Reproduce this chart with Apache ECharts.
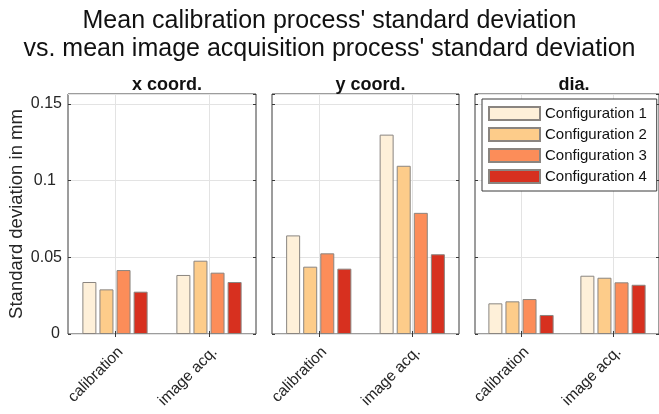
<!DOCTYPE html>
<html>
<head>
<meta charset="utf-8">
<script src="https://cdn.jsdelivr.net/npm/echarts@6/dist/echarts.min.js"></script>
<style>html,body{margin:0;padding:0;background:#fff;}#c{width:659px;height:414px;}</style>
</head>
<body>
<div id="c"></div>
<script>
// ---- data ----
var categories = ['calibration', 'image acq.'];
var panelTitles = ['x coord.', 'y coord.', 'dia.'];
var configNames = ['Configuration 1', 'Configuration 2', 'Configuration 3', 'Configuration 4'];
var configColors = ['#fef0d9', '#fdcc8a', '#fc8d59', '#d7301f'];
// values per panel: [calibration, image acq.] per configuration
var xCoordCalib = [0.0339, 0.0291, 0.0417, 0.0276];
var xCoordImage = [0.0385, 0.0478, 0.0400, 0.0339];
var yCoordCalib = [0.0643, 0.0439, 0.0526, 0.0426];
var yCoordImage = [0.1300, 0.1097, 0.0790, 0.0520];
var diaCalib = [0.0200, 0.0213, 0.0228, 0.0124];
var diaImage = [0.0380, 0.0367, 0.0337, 0.0321];
var yTickLabels = ['0', '0.05', '0.1', '0.15'];

var panelCalib = [xCoordCalib, yCoordCalib, diaCalib];
var panelImage = [xCoordImage, yCoordImage, diaImage];

var FONT = '"Liberation Sans", Arial, Helvetica, sans-serif';
var panelLeft = [68, 272, 475];
var panelWidth = [188, 187, 188];
var TOP = 94, HEIGHT = 240, YMAX = 0.1565;
var labelTrail = {'0': 2, '0.05': 0, '0.1': 6, '0.15': 0};

var grids = [], xAxes = [], yAxes = [], series = [], titles = [];
titles.push({
  text: "Mean calibration process' standard deviation\nvs. mean image acquisition process' standard deviation",
  left: 'center', top: 7, padding: [0, 5],
  textStyle: {fontFamily: FONT, fontSize: 25, fontWeight: 'normal', color: '#111', lineHeight: 28}
});
var tickFn = function (idx) { return idx === 1 || idx === 3; };
var yLabelFormatter = function (v) {
  var idx = Math.round(v / 0.05);
  if (Math.abs(v - idx * 0.05) > 1e-9 || idx > 3) return '';
  var s = yTickLabels[idx];
  var w = labelTrail[s];
  return w ? '{t|' + s + '}{s' + w + '|}' : '{t|' + s + '}';
};
for (var p = 0; p < 3; p++) {
  grids.push({left: panelLeft[p], top: TOP, width: panelWidth[p], height: HEIGHT,
    show: true, borderColor: '#3a3a3a', borderWidth: 1, backgroundColor: '#fff'});
  titles.push({text: panelTitles[p], left: panelLeft[p] + panelWidth[p] / 2, textAlign: 'center', top: 71,
    textStyle: {fontFamily: FONT, fontSize: 18, fontWeight: 'bold', color: '#111'}});
  xAxes.push({
    type: 'category', gridIndex: p, data: categories, position: 'bottom',
    axisLine: {show: false},
    axisTick: {show: true, inside: true, length: 3, alignWithLabel: true, lineStyle: {color: '#3a3a3a'}},
    splitLine: {show: false},
    axisLabel: {rotate: 45, fontFamily: FONT, fontSize: 15.5, color: '#262626', margin: 10, interval: 0,
      verticalAlign: 'top'}
  });
  xAxes.push({
    type: 'category', gridIndex: p, data: ['', '', '', '', ''], boundaryGap: false, position: 'top',
    axisLine: {show: false},
    axisTick: {show: true, inside: true, length: 3, interval: tickFn, lineStyle: {color: '#3a3a3a'}},
    axisLabel: {show: false},
    splitLine: {show: true, interval: tickFn, lineStyle: {color: '#e3e3e3', width: 1}}
  });
  yAxes.push({
    type: 'value', gridIndex: p, min: 0, max: YMAX, interval: 0.05, position: 'left',
    name: p === 0 ? 'Standard deviation in mm' : '',
    nameLocation: 'middle', nameGap: 42,
    nameTextStyle: {fontFamily: FONT, fontSize: 18.5, color: '#262626'},
    axisLine: {show: false},
    axisTick: {show: true, inside: true, length: 3, lineStyle: {color: '#3a3a3a'}},
    splitLine: {show: true, lineStyle: {color: '#e3e3e3', width: 1}},
    axisLabel: {show: p === 0, showMaxLabel: false, color: '#262626', margin: 6,
      formatter: yLabelFormatter,
      rich: {t: {fontFamily: FONT, fontSize: 16, color: '#262626'}, s2: {width: 2}, s6: {width: 6}}
    }
  });
  yAxes.push({
    type: 'value', gridIndex: p, min: 0, max: YMAX, interval: 0.05, position: 'right',
    axisLine: {show: false},
    axisTick: {show: true, inside: true, length: 3, lineStyle: {color: '#3a3a3a'}},
    splitLine: {show: false}, axisLabel: {show: false}
  });
  for (var c = 0; c < 4; c++) {
    series.push({
      type: 'bar', name: configNames[c], xAxisIndex: p * 2, yAxisIndex: p * 2,
      data: [panelCalib[p][c], panelImage[p][c]],
      barWidth: 14, barGap: '22%',
      itemStyle: {color: configColors[c], borderColor: '#8a8580', borderWidth: 1},
      emphasis: {disabled: true}
    });
  }
}

var chart = echarts.init(document.getElementById('c'), null, {renderer: 'canvas'});
chart.setOption({
  animation: false,
  title: titles,
  grid: grids,
  xAxis: xAxes,
  yAxis: yAxes,
  legend: {
    data: configNames, orient: 'vertical', left: 482, top: 99, icon: 'rect',
    itemWidth: 51, itemHeight: 13, itemGap: 6, padding: [7, 10, 7, 6],
    borderColor: '#3a3a3a', borderWidth: 1, backgroundColor: '#fff', borderRadius: 0,
    textStyle: {fontFamily: FONT, fontSize: 15, color: '#111'},
    selectedMode: false
  },
  series: series
});
</script>
</body>
</html>
